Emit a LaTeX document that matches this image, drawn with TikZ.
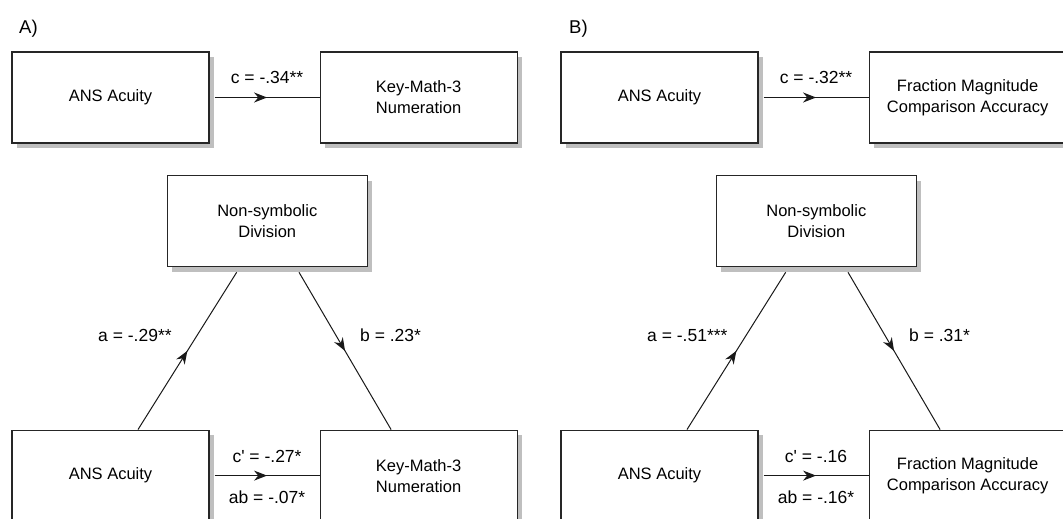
\documentclass[tikz,border=0pt]{standalone}
\usepackage{fontspec}
\setmainfont{Liberation Sans}[Ligatures=TeXOff]
\usepackage{tikz}
\usetikzlibrary{arrows.meta, positioning, calc, decorations.markings, shadows}
\tikzset{
    varbox/.style={rectangle, draw=black!85, fill=white, line width=1.1pt, minimum width=197pt, minimum height=91pt, inner sep=0pt, align=center, font=\fontsize{16.5}{21}\selectfont, drop shadow={opacity=1, fill=black!25, shadow xshift=5pt, shadow yshift=-5pt}},
    patharrow/.style={line width=1pt, draw=black!90, postaction={decorate}, decoration={markings, mark=at position 0.5 with {\arrow{Stealth[length=13pt, width=10pt]}}}},
    coefflabel/.style={inner sep=0pt, font=\fontsize{17.5}{21}\selectfont},
    panellabel/.style={inner sep=0pt, font=\fontsize{18.5}{22}\selectfont}
}

\begin{document}
\begin{tikzpicture}[x=1pt, y=-1pt]

\useasboundingbox (0,0) rectangle (1063,519);
\clip (0,0) rectangle (1063,519);
\fill[white] (0,0) rectangle (1063,519);

% panel A
\node[panellabel, anchor=base west] (labA) at (19,33.3) {A)};

\node[varbox] (ansA) at (110.5,97.5) {ANS Acuity};
\node[varbox, right=110pt of ansA] (kmA) {Key-Math-3\\Numeration};
\node[varbox, minimum width=200pt] (nsdA) at (267.3,221.2) {Non-symbolic\\Division};
\node[varbox, below=286pt of ansA] (ansA2) {ANS Acuity};
\node[varbox, right=110pt of ansA2] (kmA2) {Key-Math-3\\Numeration};

\draw[patharrow] ([xshift=5pt]ansA.east) -- node[coefflabel, anchor=base, yshift=13.5pt] (cA) {c = -.34**} (kmA.west);
\draw[patharrow] ([xshift=27.5pt]ansA2.north) -- ([xshift=-30.6pt, yshift=-5pt]nsdA.south);
\draw[patharrow] ([xshift=31.7pt, yshift=-5pt]nsdA.south) -- ([xshift=-27.5pt]kmA2.north);
\draw[patharrow] ([xshift=5pt]ansA2.east) -- node[coefflabel, anchor=base, yshift=13pt] (cpA) {c' = -.27*}
    node[coefflabel, anchor=base, yshift=-28.3pt] (abA) {ab = -.07*} (kmA2.west);

\node[coefflabel, anchor=base west] (aA) at (98,341.5) {a = -.29**};
\node[coefflabel, anchor=base west] (bA) at (360,341.5) {b = .23*};

% panel B
\begin{scope}[xshift=549pt]
\node[panellabel, anchor=base west] (labB) at (20,33.3) {B)};

\node[varbox] (ansB) at (110.5,97.5) {ANS Acuity};
\node[varbox, right=110pt of ansB] (fmB) {Fraction Magnitude\\Comparison Accuracy};
\node[varbox, minimum width=200pt] (nsdB) at (267.3,221.2) {Non-symbolic\\Division};
\node[varbox, below=286pt of ansB] (ansB2) {ANS Acuity};
\node[varbox, right=110pt of ansB2] (fmB2) {Fraction Magnitude\\Comparison Accuracy};

\draw[patharrow] ([xshift=5pt]ansB.east) -- node[coefflabel, anchor=base, yshift=13.5pt] (cB) {c = -.32**} (fmB.west);
\draw[patharrow] ([xshift=27.5pt]ansB2.north) -- ([xshift=-30.6pt, yshift=-5pt]nsdB.south);
\draw[patharrow] ([xshift=31.7pt, yshift=-5pt]nsdB.south) -- ([xshift=-27.5pt]fmB2.north);
\draw[patharrow] ([xshift=5pt]ansB2.east) -- node[coefflabel, anchor=base, yshift=13pt] (cpB) {c' = -.16}
    node[coefflabel, anchor=base, yshift=-28.3pt] (abB) {ab = -.16*} (fmB2.west);

\node[coefflabel, anchor=base west] (aB) at (98,341.5) {a = -.51***};
\node[coefflabel, anchor=base west] (bB) at (360,341.5) {b = .31*};
\end{scope}

\end{tikzpicture}
\end{document}
